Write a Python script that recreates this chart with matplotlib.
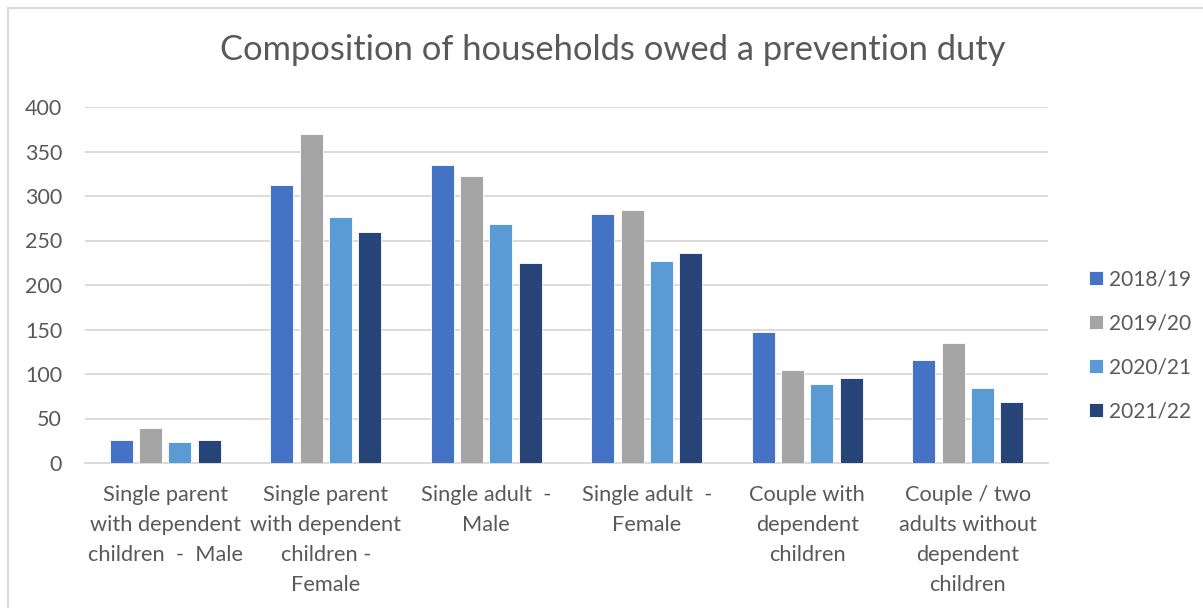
import matplotlib

matplotlib.use("Agg")
import matplotlib.pyplot as plt  # noqa: E402
import numpy as np  # noqa: E402
from matplotlib.patches import Rectangle  # noqa: E402

plt.rcParams["font.family"] = ["Lato", "DejaVu Sans"]

categories = [
    "Single parent\nwith dependent\nchildren  -  Male",
    "Single parent\nwith dependent\nchildren -\nFemale",
    "Single adult  -\nMale",
    "Single adult  -\nFemale",
    "Couple with\ndependent\nchildren",
    "Couple / two\nadults without\ndependent\nchildren",
]
years = ["2018/19", "2019/20", "2020/21", "2021/22"]
values_2018 = [26, 312, 335, 280, 147, 116]
values_2019 = [39, 370, 323, 284, 104, 135]
values_2020 = [24, 276, 268, 227, 89, 84]
values_2021 = [26, 259, 225, 236, 96, 69]
series = [values_2018, values_2019, values_2020, values_2021]
colors = ["#4472C4", "#A5A5A5", "#5B9BD5", "#264478"]

TEXT = "#595959"
GRID = "#D9D9D9"

fig = plt.figure(figsize=(12.03, 6.08), dpi=100)
ax = fig.add_axes([85 / 1203, 145 / 608, 963 / 1203, 356 / 608])

x = np.arange(len(categories))
slot = 0.1826
width = 0.143
for i, (vals, col, lab) in enumerate(zip(series, colors, years)):
    ax.bar(x + (i - 1.5) * slot, vals, width, color=col, label=lab,
           edgecolor="white", linewidth=0.6, zorder=3)

ax.set_xlim(-0.5, len(categories) - 0.5)
ax.set_ylim(0, 400)
ax.set_yticks(range(0, 401, 50))
ax.yaxis.grid(True, color=GRID, linewidth=1.3, zorder=0)
for side in ["top", "right", "left"]:
    ax.spines[side].set_visible(False)
ax.spines["bottom"].set_color(GRID)
ax.spines["bottom"].set_linewidth(1.3)
ax.tick_params(axis="both", length=0, colors=TEXT)
ax.tick_params(axis="y", pad=16.5, labelsize=15.5)
ax.tick_params(axis="x", pad=16)
ax.set_xticks(x)
ax.set_xticklabels(categories, linespacing=1.63, fontsize=15.7)

fig.text(612.5 / 1203, 1 - 50 / 608,
         "Composition of households owed a prevention duty",
         ha="center", va="center", fontsize=24.8, color=TEXT)

fig.legend(loc="center left", bbox_to_anchor=(1070 / 1203, 1 - 345.5 / 608),
           frameon=False, fontsize=15, labelcolor=TEXT,
           handlelength=0.67, handleheight=0.67, handletextpad=0.3,
           labelspacing=1.15)

fig.patches.append(Rectangle((8 / 1203, -0.01), 1.02, 1 - 8 / 608 + 0.01,
                             transform=fig.transFigure, fill=False,
                             edgecolor=GRID, linewidth=1.5))

fig.savefig("out.png", dpi=100)
